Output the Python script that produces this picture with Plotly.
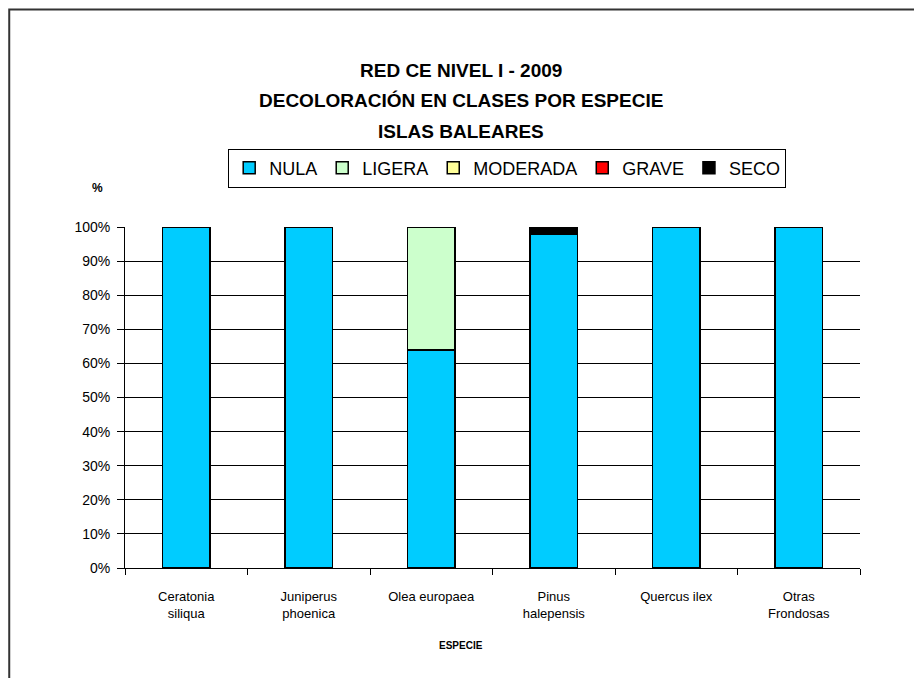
import plotly.graph_objects as go

especies = ['Ceratonia<br>siliqua', 'Juniperus<br>phoenica', 'Olea europaea',
            'Pinus<br>halepensis', 'Quercus ilex', 'Otras<br>Frondosas']

nula = [100, 100, 64, 98, 100, 100]
ligera = [0, 0, 36, 0, 0, 0]
moderada = [0, 0, 0, 0, 0, 0]
grave = [0, 0, 0, 0, 0, 0]
seco = [0, 0, 0, 2, 0, 0]

clases = ['NULA', 'LIGERA', 'MODERADA', 'GRAVE', 'SECO']
colores = ['#00CCFF', '#CCFFCC', '#FFFF99', '#FF0000', '#000000']
series = [nula, ligera, moderada, grave, seco]

titulo = ['RED CE NIVEL I - 2009', 'DECOLORACIÓN EN CLASES POR ESPECIE', 'ISLAS BALEARES']

FONT = 'Liberation Sans, Arial, sans-serif'

fig = go.Figure()

for nombre, color, valores in zip(clases, colores, series):
    fig.add_trace(go.Bar(
        x = especies,
        y = valores,
        name = nombre,
        marker = {
            'color': color,
            'line': {'color': 'black', 'width': 1.5}
        },
        hovertemplate = '%{x}: %{y}%<extra>' + nombre + '</extra>'
    ))

# la pagina tiene 8px de margen en el body, se compensa en los margenes
fig.update_layout(
    width = 922,
    height = 678,
    barmode = 'stack',
    bargap = 0.61,
    paper_bgcolor = 'white',
    plot_bgcolor = 'white',
    font = {'family': FONT, 'color': 'black'},
    margin = {'l': 117, 'r': 70, 't': 219, 'b': 118, 'autoexpand': False},
    legend = {
        'orientation': 'h',
        'x': 0.52,
        'y': 1.173,
        'xanchor': 'center',
        'yanchor': 'middle',
        'bordercolor': 'black',
        'borderwidth': 1,
        'font': {'size': 18, 'family': FONT},
        'itemwidth': 30,
        'traceorder': 'normal'
    },
    shapes = [{
        'type': 'rect',
        'xref': 'paper',
        'yref': 'paper',
        'x0': -0.1575,
        'x1': 1.3,
        'y0': -0.5,
        'y1': 1.638,
        'line': {'color': '#333333', 'width': 2}
    }]
)

for texto, y in zip(titulo, [1.460, 1.372, 1.279]):
    fig.add_annotation(text=f'<b>{texto}</b>', x=0.457, y=y, xref='paper', yref='paper',
                       xanchor='center', yanchor='middle', showarrow=False,
                       font={'size': 19, 'family': FONT})

fig.add_annotation(text='<b>%</b>', x=-0.038, y=1.114, xref='paper', yref='paper',
                   xanchor='center', yanchor='middle',
                   showarrow=False, font={'size': 12, 'family': FONT})
fig.add_annotation(text='<b>ESPECIE</b>', x=0.457, y=-0.226, xref='paper', yref='paper',
                   xanchor='center', yanchor='middle',
                   showarrow=False, font={'size': 10, 'family': FONT})

fig.update_yaxes(
    range = [0, 100],
    tick0 = 0,
    dtick = 10,
    ticksuffix = '%',
    showgrid = True,
    gridcolor = 'black',
    gridwidth = 1,
    zeroline = False,
    showline = True,
    linecolor = 'black',
    linewidth = 1,
    ticks = 'outside',
    ticklen = 7,
    tickcolor = 'black',
    ticklabelstandoff = 4,
    tickfont = {'size': 14}
)

fig.update_xaxes(
    showline = True,
    linecolor = 'black',
    linewidth = 1,
    ticks = 'outside',
    tickson = 'boundaries',
    ticklen = 6,
    tickcolor = 'black',
    ticklabelstandoff = 16,
    tickfont = {'size': 13}
)

fig.write_html('out.html')
